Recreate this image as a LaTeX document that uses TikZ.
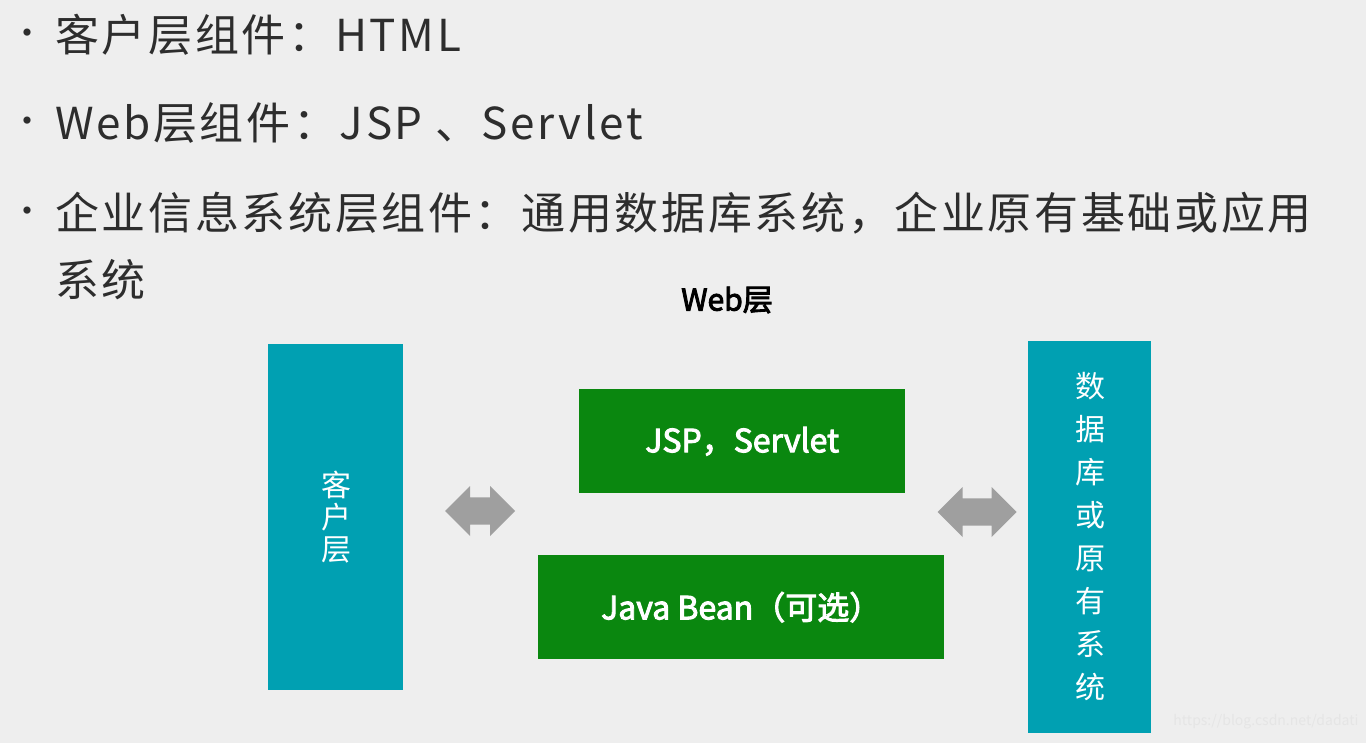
\documentclass[tikz,border=0pt]{standalone}
\usepackage{fontspec}
\setmainfont{Noto Sans CJK SC}
\newfontfamily\cjkb[FakeBold=3]{Noto Sans CJK SC}
\newfontfamily\cjkl[LetterSpace=6]{Noto Sans CJK SC}
\usetikzlibrary{shapes.arrows}
\definecolor{teal1}{RGB}{0,160,178}
\definecolor{green1}{RGB}{10,135,15}
\definecolor{bg}{RGB}{238,238,238}
\definecolor{txt}{RGB}{45,45,45}
\tikzset{
  bul/.style={anchor=west,text=txt,font=\cjkl\fontsize{44}{50}\selectfont,inner sep=0},
  dot/.style={text=txt,font=\fontsize{34}{40}\selectfont,inner sep=0},
  tealbox/.style={fill=teal1,draw=none,anchor=north west},
  greenbox/.style={fill=green1,draw=none,anchor=north west},
  gtxt/.style={text=white,font=\cjkb\fontsize{32}{36}\selectfont},
  vt/.style={text=white,font=\fontsize{30}{36}\selectfont,align=center},
  darr/.style={double arrow,fill=gray!75,draw=none,minimum width=50pt,double arrow head extend=6pt,inner sep=7pt}
}
\begin{document}
\begin{tikzpicture}[x=1pt,y=-1pt]
\fill[bg] (0,0) rectangle (1366,743);
\useasboundingbox (0,0) rectangle (1366,743);
\node[dot] (d1) at (27,37) {•};
\node[dot] (d2) at (27,125) {•};
\node[dot] (d3) at (27,215) {•};
\node[bul] (b1) at (55,35) {客户层组件：HTML};
\node[bul] (b2) at (55,123) {Web层组件：JSP 、Servlet};
\node[bul] (b3) at (55,213) {企业信息系统层组件：通用数据库系统，企业原有基础或应用};
\node[bul] (b4) at (55,280) {系统};
\node[font=\cjkb\fontsize{30}{32}\selectfont,text=black] (web) at (727,300) {Web层};
\node[tealbox,minimum width=135pt,minimum height=346pt] (client) at (268,344) {};
\node[vt] (ct) at (336,517) {客\\[-4pt]户\\[-4pt]层};
\node[tealbox,minimum width=123pt,minimum height=392pt] (db) at (1028,341) {};
\node[vt,font=\fontsize{30}{43}\selectfont] (dt) at (1090,537) {数\\据\\库\\或\\原\\有\\系\\统};
\node[greenbox,minimum width=326pt,minimum height=104pt] (jsp) at (579,389) {};
\node[gtxt] (jspt) at (jsp.center) {JSP，Servlet};
\node[greenbox,minimum width=406pt,minimum height=104pt] (bean) at (538,555) {};
\node[gtxt] (beant) at (bean.center) {Java Bean（可选）};
\node[darr,minimum height=70pt] (a1) at (480,511) {};
\node[darr,minimum height=79pt] (a2) at (977,512) {};
\node[text=white!80!gray,font=\fontsize{14}{16}\selectfont,anchor=east] (wm) at (1362,722) {https://blog.csdn.net/dadati};
\end{tikzpicture}
\end{document}
